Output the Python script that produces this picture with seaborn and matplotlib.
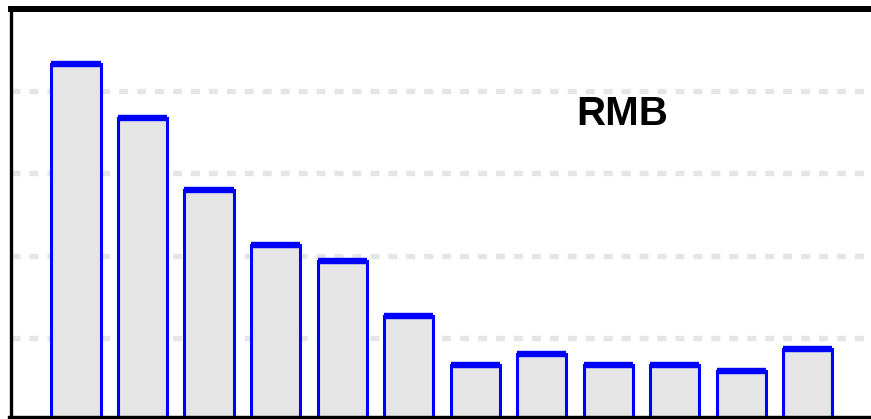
import numpy as np
import matplotlib
matplotlib.use('Agg')
import matplotlib.pyplot as plt
import seaborn as sns
import pandas as pd

# bar heights (grid step = 1)
categories = ['c01', 'c02', 'c03', 'c04', 'c05', 'c06', 'c07', 'c08', 'c09', 'c10', 'c11', 'c12']
values = [4.33, 3.67, 2.80, 2.13, 1.94, 1.27, 0.67, 0.80, 0.67, 0.67, 0.60, 0.87]
label = 'RMB'

df = pd.DataFrame({'cat': categories, 'val': values})

sns.set_theme(style='white')
plt.rcParams['font.family'] = ['Liberation Sans', 'DejaVu Sans']

fig = plt.figure(figsize=(8.71, 4.19), dpi=100)
ax = fig.add_axes([0.0121, 0.0, 0.9879, 0.9785])

a = sns.barplot(x='cat', y='val', data=df, ax=ax, color='#e5e5e5',
                edgecolor='blue', linewidth=2.2, width=0.74, saturation=1, zorder=2)

# thicker top edge on each bar
for p in a.patches:
    ax.plot([p.get_x(), p.get_x() + p.get_width()], [p.get_height(), p.get_height()],
            color='blue', lw=4.6, solid_capstyle='butt', zorder=3)

ax.set_ylim(0.016, 4.997)
ax.set_xlim(-0.985, 11.95)
ax.set_yticks([1, 2, 3, 4])
ax.yaxis.grid(True, color='#e5e5e5', lw=3.8, linestyle=(0, (1.7, 1.7)))
ax.set_axisbelow(True)
ax.tick_params(left=False, bottom=False, labelleft=False, labelbottom=False)
ax.set_xlabel('')
ax.set_ylabel('')

for s in ['top', 'left', 'bottom', 'right']:
    ax.spines[s].set_color('black')
    ax.spines[s].set_zorder(4)
ax.spines['top'].set_linewidth(4.3)
ax.spines['bottom'].set_linewidth(4.6)
ax.spines['left'].set_linewidth(2.4)
ax.spines['right'].set_visible(False)

ax.text(0.7107, 0.7175, label, transform=ax.transAxes, ha='center', va='baseline',
        fontsize=29, fontweight='bold', color='black')

plt.savefig('out.png', dpi=100)
